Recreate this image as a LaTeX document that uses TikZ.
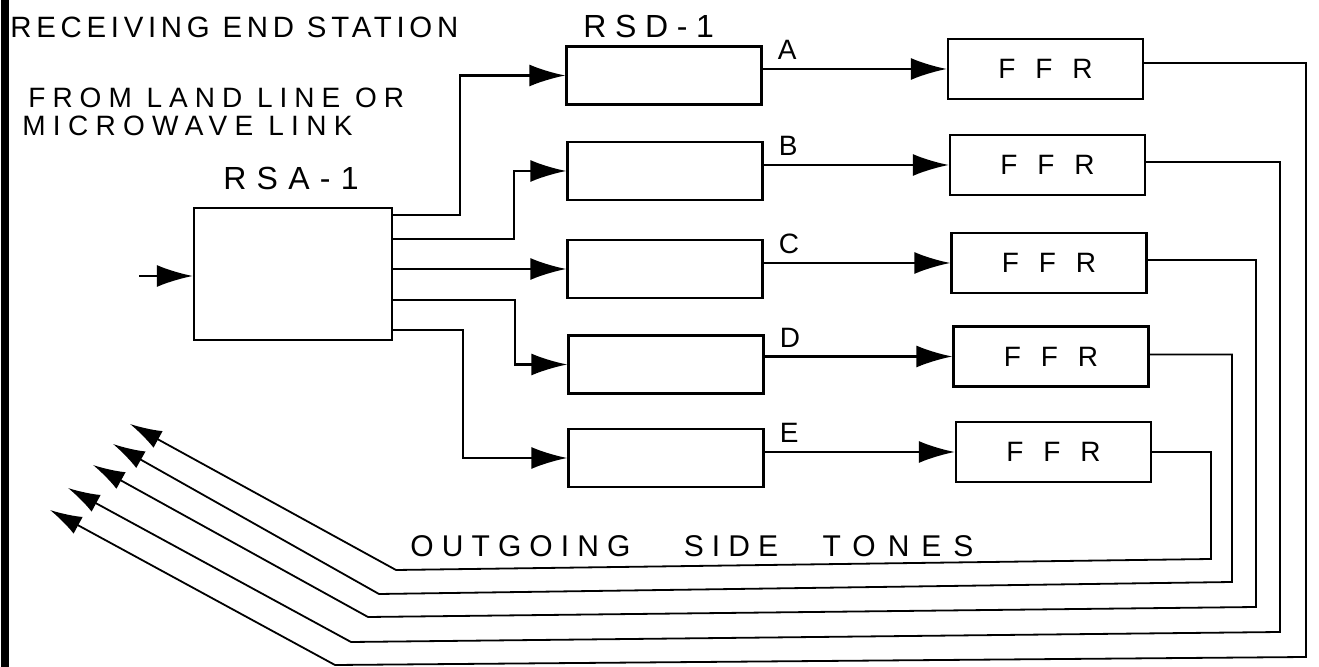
\documentclass[tikz,border=0pt]{standalone}
\usepackage{fontspec}
\setmainfont{Liberation Sans}
\usetikzlibrary{arrows.meta,calc}
\begin{document}
\begin{tikzpicture}[x=0.5pt,y=-0.5pt,
  box/.style={draw,line width=1.2pt,inner sep=0pt,minimum width=97.5pt,minimum height=29pt},
  rsabox/.style={box,minimum width=99pt,minimum height=66pt},
  ffrbox/.style={box,minimum height=30pt,font=\fontsize{14}{16}\selectfont},
  conn/.style={line width=1.1pt,-{Latex[length=18pt,width=11pt]}},
  retconn/.style={line width=0.9pt,-{Latex[length=16pt,width=9.5pt]}},
  lbl/.style={anchor=south west,inner sep=0pt,xshift=7pt,yshift=4pt,font=\fontsize{14}{16}\selectfont},
  txt/.style={anchor=west,inner sep=0pt}
]
\useasboundingbox (0,0) rectangle (1319,667);
% left border
\draw[line width=4pt] (5,0) -- (5,667);
% texts
\node[txt,font=\fontsize{14.7}{17}\selectfont\addfontfeature{LetterSpace=16}] (t1) at (10,27) {RECEIVING END STATION};
\node[txt,font=\fontsize{14}{16}\selectfont\addfontfeature{LetterSpace=25}] (t2) at (28,98) {FROM LAND LINE OR};
\node[txt,font=\fontsize{14}{16}\selectfont\addfontfeature{LetterSpace=26}] (t3) at (22,126) {MICROWAVE LINK};
\node[txt,font=\fontsize{16}{18}\selectfont\addfontfeature{LetterSpace=32}] (t4) at (223,178) {RSA-1};
\node[txt,font=\fontsize{16}{18}\selectfont\addfontfeature{LetterSpace=27}] (t5) at (583,26) {RSD-1};
\node[txt,font=\fontsize{15}{17}\selectfont\addfontfeature{LetterSpace=27}] (t6) at (410,546) {OUTGOING \hspace{18.5pt}SIDE \hspace{14pt}{\addfontfeature{LetterSpace=40}TONES}};
% boxes
\node[rsabox] (rsa) at (293,274) {};
\node[box] (da) at (664,75.5) {};
\node[box] (db) at (665,171) {};
\node[box] (dc) at (665,269) {};
\node[box] (dd) at (666,364.5) {};
\node[box] (de) at (666,458) {};
\node[ffrbox] (fa) at (1045.5,69) {F\kern10ptF\kern10ptR};
\node[ffrbox] (fb) at (1047.5,165) {F\kern10ptF\kern10ptR};
\node[ffrbox] (fc) at (1049,263) {F\kern10ptF\kern10ptR};
\node[ffrbox] (fd) at (1051,356.5) {F\kern10ptF\kern10ptR};
\node[ffrbox] (fe) at (1053.5,452) {F\kern10ptF\kern10ptR};
% coordinates
\coordinate (in) at (139,276);
\coordinate (bA) at (460,0);
\coordinate (bB) at (514,0);
\coordinate (bD) at (515,0);
\coordinate (bE) at (463,0);
\coordinate (tA) at (50,510);
\coordinate (tB) at (68,488);
\coordinate (tC) at (93,465);
\coordinate (tD) at (113,444);
\coordinate (tE) at (130,424);
\coordinate (cA) at (335,665);
\coordinate (cB) at (351,642);
\coordinate (cC) at (368,617);
\coordinate (cD) at (379,594);
\coordinate (cE) at (396,570);
\coordinate (vA) at (1306,657);
\coordinate (vB) at (1280,632);
\coordinate (vC) at (1256,607);
\coordinate (vD) at (1232,582);
\coordinate (vE) at (1211,559);
% input
\draw[conn] (in) -- (in -| rsa.west);
% RSA to RSD
\draw[conn] ($(rsa.east)+(0,-59)$) -| (bA |- da.west) -- (da.west);
\draw[conn] ($(rsa.east)+(0,-35)$) -| (bB |- db.west) -- (db.west);
\draw[conn] (rsa.east |- dc.west) -- (dc.west);
\draw[conn] ($(rsa.east)+(0,26)$) -| (bD |- dd.west) -- (dd.west);
\draw[conn] ($(rsa.east)+(0,56)$) -| (bE |- de.west) -- (de.west);
% RSD to FFR
\draw[conn] (da.east |- fa.west) node[lbl] {A} -- (fa.west);
\draw[conn] (db.east |- fb.west) node[lbl] {B} -- (fb.west);
\draw[conn] (dc.east |- fc.west) node[lbl] {C} -- (fc.west);
\draw[conn] (dd.east |- fd.west) node[lbl] {D} -- (fd.west);
\draw[conn] (de.east |- fe.west) node[lbl] {E} -- (fe.west);
% outgoing side tones
\draw[retconn] ($(fa.east)+(0,-6)$) -| (vA) -- (cA) -- (tA);
\draw[retconn] ($(fb.east)+(0,-3)$) -| (vB) -- (cB) -- (tB);
\draw[retconn] ($(fc.east)+(0,-3)$) -| (vC) -- (cC) -- (tC);
\draw[retconn] ($(fd.east)+(0,-2)$) -| (vD) -- (cD) -- (tD);
\draw[retconn] (fe.east) -| (vE) -- (cE) -- (tE);
\end{tikzpicture}
\end{document}
